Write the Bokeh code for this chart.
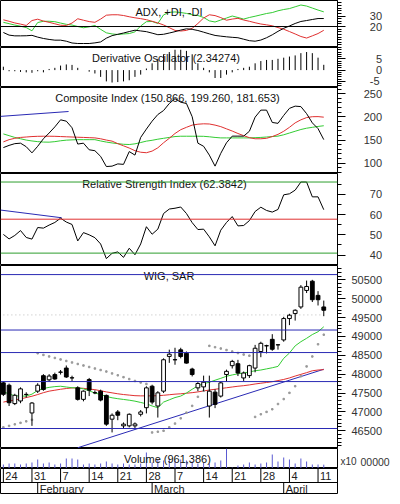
from bokeh.plotting import figure
from bokeh.layouts import column
from bokeh.models import Range1d, FixedTicker, Span, LinearAxis
from bokeh.core.properties import value
from bokeh.embed import file_html
from bokeh.resources import INLINE

FONT = "Liberation Sans"

# ---------------- data (trading-day index 0 = 24 Jan) ----------------
idx = list(range(57))

day_tick_idx = [0, 5, 10, 15, 20, 25, 30, 35, 40, 45, 50, 55]
day_tick_labels = ["24", "31", "7", "14", "21", "28", "7", "14", "21", "28", "4", "11"]
month_idx = [6, 26, 49]
month_labels = ["February", "March", "April"]

adx = [14.3, 11.8, 11.1, 11.1, 11.2, 11.6, 9.9, 8.6, 7.7, 7.0, 7.0, 6.0, 4.3, 3.8, 3.8, 3.8, 4.4, 5.3, 8.9, 11.3,
       12.6, 13.8, 15.2, 16.5, 15.8, 15.1, 13.7, 12.2, 12.6, 13.8, 15.1, 16.6, 17.8, 17.3, 16.2, 14.6, 13.0, 11.5,
       10.8, 10.2, 9.7, 9.3, 7.9, 6.5, 6.0, 7.1, 9.3, 12.1, 15.4, 18.3, 20.5, 22.9, 24.8, 25.7, 26.7, 27.6, 27.6]
plus_di = [24.0, 22.7, 21.4, 20.3, 19.0, 15.9, 23.8, 25.0, 25.0, 24.6, 23.3, 22.1, 21.4, 20.0, 18.8, 19.7, 21.0,
           17.3, 14.0, 12.9, 12.4, 12.9, 13.3, 14.9, 20.5, 24.6, 24.8, 22.9, 31.1, 33.5, 33.9, 33.3, 32.5, 31.2,
           30.5, 28.6, 25.4, 24.3, 26.2, 28.1, 30.0, 28.6, 27.1, 28.6, 29.8, 31.1, 32.4, 33.3, 35.0, 36.2, 37.1,
           38.8, 40.5, 39.5, 37.6, 35.7, 34.0]
minus_di = [26.4, 25.0, 23.4, 22.3, 21.0, 25.7, 27.0, 25.2, 24.0, 22.6, 21.2, 21.0, 23.3, 27.4, 26.0, 24.7, 24.0,
            27.1, 30.8, 31.2, 31.2, 30.5, 29.3, 28.3, 27.5, 26.5, 25.0, 23.4, 21.5, 18.9, 16.3, 15.7, 16.3, 18.3,
            22.9, 28.1, 31.2, 30.4, 28.5, 26.0, 27.1, 27.8, 26.2, 25.0, 23.6, 22.4, 21.6, 20.7, 19.0, 17.4, 15.2,
            12.9, 10.5, 9.0, 11.1, 13.3, 16.4]
adx_level = 20

deriv = [1.5, -0.5, -0.5, -0.8, -1.0, -1.2, -0.5, -1.0, 0.5, 1.0, 2.0, 2.5, 2.3, 1.0, 0.0, -0.7, -1.5, -3.0, -5.0,
         -5.5, -5.3, -5.0, -4.5, -3.0, -2.0, 0.7, 3.0, 5.0, 7.0, 8.0, 9.0, 9.0, 8.5, 7.0, 3.0, 1.0, -1.0, -3.5,
         -3.5, -2.0, -1.0, 0.5, 1.0, 1.5, 3.0, 4.0, 4.5, 4.5, 5.0, 5.5, 6.0, 6.5, 7.5, 8.0, 7.5, 5.5, 2.34]

comp = [133.7, 138.4, 142.2, 143.2, 135.6, 122.3, 136.5, 152.7, 165.1, 178.4, 193.6, 190.7, 176.5, 141.3, 143.2,
        128.9, 127.0, 114.7, 92.8, 93.7, 98.5, 97.5, 125.1, 117.5, 155.6, 173.6, 190.7, 205.0, 213.6, 228.8,
        239.2, 231.6, 228.8, 200.3, 143.2, 136.5, 117.5, 93.7, 121.3, 144.1, 158.4, 158.4, 158.4, 168.9, 199.3,
        214.5, 214.5, 187.9, 186.0, 203.1, 218.3, 223.1, 222.1, 206.9, 187.0, 174.6, 150.9]
comp_slow = [146.0, 150.8, 153.7, 155.6, 156.5, 157.5, 158.0, 158.2, 158.2, 158.0, 157.5, 157.0, 156.5, 156.0,
             155.6, 155.1, 154.6, 152.7, 149.9, 147.6, 142.2, 137.5, 132.7, 127.0, 123.7, 122.6, 126.1, 133.2,
             144.1, 153.7, 164.1, 172.3, 177.4, 182.2, 184.1, 185.0, 184.6, 182.2, 178.9, 174.1, 169.4, 164.1,
             159.4, 155.1, 152.7, 152.7, 153.7, 157.5, 162.2, 168.9, 177.4, 187.0, 193.6, 198.4, 200.3, 200.5, 199.3]
comp_fast = [163.2, 159.4, 155.6, 152.7, 149.9, 148.0, 146.5, 145.6, 145.4, 146.5, 148.4, 149.7, 150.3, 150.8,
             150.8, 150.8, 150.8, 148.0, 145.6, 143.7, 142.2, 140.8, 140.3, 141.8, 144.6, 147.6, 149.4, 151.8,
             153.7, 155.6, 157.5, 158.2, 158.2, 158.2, 158.2, 158.0, 157.0, 155.6, 154.6, 154.6, 154.6, 154.6,
             154.6, 154.6, 155.1, 155.6, 156.5, 157.5, 158.4, 161.3, 165.1, 168.9, 172.7, 175.5, 177.4, 179.3, 180.8]
comp_trend_x = [-0.5, 11.4]
comp_trend_y = [201.0, 211.5]

rsi = [50.2, 48.0, 49.7, 52.1, 48.7, 47.9, 53.6, 53.3, 54.8, 56.1, 58.2, 56.3, 55.1, 47.0, 51.1, 50.0, 48.6, 45.5,
       38.3, 40.9, 41.6, 38.9, 43.4, 40.2, 45.5, 54.0, 50.3, 52.8, 60.5, 62.7, 63.1, 63.7, 60.5, 56.0, 52.6, 52.8,
       49.0, 44.6, 52.3, 56.1, 59.0, 54.4, 54.6, 57.0, 61.5, 63.6, 62.0, 61.2, 62.5, 69.7, 70.2, 72.0, 76.0, 76.0,
       68.7, 68.7, 62.38]
rsi_levels_green = [76.0, 41.0]
rsi_level_red = 57.7
rsi_trend_x = [-0.5, 10.2]
rsi_trend_y = [62.2, 58.4]

wig_open = [47770, 47707, 47220, 47290, 47460, 46972, 47550, 47960, 47850, 47988, 48050, 48162, 47900, 47637,
            47332, 47857, 47505, 47550, 47437, 46807, 46999, 46630, 46630, 46630, 46937, 47112, 47681, 47156,
            47550, 48470, 48380, 48645, 48555, 48135, 47637, 47663, 47156, 47524, 47419, 47990, 48225, 48277,
            47900, 47962, 48162, 48600, 48750, 48923, 48776, 48907, 49474, 49606, 49781, 50219, 50464, 50088, 49781]
wig_high = [47800, 47750, 47480, 47650, 47520, 47260, 47760, 48000, 48000, 48040, 48110, 48230, 47960, 47680,
            47570, 47900, 47570, 47590, 47460, 46960, 47050, 46720, 46960, 46720, 47050, 47680, 47720, 47550,
            48420, 48650, 48700, 48700, 48600, 48170, 47790, 47961, 47961, 47600, 47800, 48120, 48380, 48380,
            48070, 48250, 48776, 48860, 48780, 49060, 48790, 49520, 49600, 49720, 50360, 50480, 50500, 50200, 49950]
wig_low = [47420, 47156, 47180, 47230, 47380, 46630, 47500, 47560, 47800, 47850, 47990, 47900, 47820, 47300,
           47280, 47419, 47470, 47280, 46630, 46456, 46780, 46550, 46590, 46560, 46880, 46960, 47200, 46850,
           47500, 48300, 48250, 48420, 48280, 47940, 47550, 47550, 46850, 47100, 47380, 47800, 48150, 47950,
           47820, 47900, 48050, 48450, 48550, 48620, 48650, 48860, 49300, 49420, 49730, 50150, 49912, 49820, 49537]
wig_close = [47465, 47243, 47440, 47610, 47465, 47235, 47707, 47595, 47950, 47873, 48057, 47925, 47905, 47332,
             47550, 47576, 47510, 47314, 46676, 46912, 46912, 46676, 46937, 46680, 46999, 47637, 47261, 47505,
             48382, 48530, 48385, 48469, 48293, 47990, 47752, 47786, 47550, 47200, 47769, 48075, 48338, 48030,
             48030, 48225, 48687, 48818, 48755, 48660, 48780, 49474, 49563, 49694, 50306, 50324, 49973, 49973, 49694]
wig_ma_fast = [47540, 47471, 47430, 47419, 47419, 47470, 47570, 47620, 47650, 47670, 47680, 47660, 47640, 47637,
               47610, 47560, 47500, 47460, 47410, 47374, 47350, 47330, 47310, 47285, 47250, 47215, 47156, 47112,
               47260, 47320, 47380, 47419, 47500, 47600, 47690, 47750, 47786, 47840, 47890, 47944, 47980, 48010,
               48030, 48060, 48090, 48110, 48140, 48170, 48206, 48420, 48560, 48750, 48860, 48950, 49050, 49125, 49256]
wig_ma_slow = [47260, 47290, 47315, 47345, 47380, 47415, 47460, 47510, 47550, 47575, 47600, 47620, 47635, 47637,
               47625, 47605, 47590, 47560, 47530, 47505, 47480, 47460, 47445, 47430, 47425, 47425, 47425, 47430,
               47440, 47455, 47470, 47480, 47495, 47510, 47530, 47555, 47580, 47600, 47620, 47640, 47660, 47680,
               47695, 47715, 47740, 47760, 47780, 47800, 47830, 47860, 47900, 47950, 47995, 48040, 48090, 48110, 48120]
sar = [46590, 46630, 46670, 46710, 46750, 46790,
       48554, 48510, 48470, 48430, 48390, 48350, 48310, 48270, 48230, 48190, 48150, 48110, 48070, 48020,
       47970, 47920, 47870, 47820, 47780, 47740,
       46455, 46475, 46500, 46590, 46690, 46830, 46980, 47160, 47400, 47560,
       48750, 48715, 48680, 48640, 48600, 48560, 48520, 48490,
       46867, 46937, 47000, 47070, 47209, 47340, 47505, 47681, 47944, 48206, 48469, 48792, 49046]
wig_levels = [50639, 49170, 48573, 47804, 46560]
wig_dotted_level = 49570
wig_trend_x = [13.0, 56.0]
wig_trend_y = [46050, 48130]

volume = [1000000, 1250000, 1250000, 1000000, 1250000, 1500000, 2250000, 1250000, 1500000, 1000000, 1250000,
          2500000, 2500000, 2250000, 1000000, 1250000, 1000000, 1250000, 1750000, 1250000, 1000000, 1250000,
          1000000, 1000000, 1250000, 4000000, 1500000, 2250000, 2000000, 2500000, 2000000, 2250000, 2000000,
          1750000, 1250000, 1500000, 1250000, 1500000, 2000000, 5000000, 250000, 750000, 1000000, 1500000,
          1000000, 1250000, 1500000, 3500000, 1750000, 2750000, 2250000, 1250000, 2500000, 1750000, 1000000,
          1000000, 961386]
volume_unit_tick = 1750000

# ---------------- layout helpers ----------------
W = 392
RB = 49
xr = Range1d(-0.5, 58.4)
GREEN = "#33cc33"
RED = "#e03030"
BLUE = "#2a2ab4"
TXT = "#111111"
FIGSP = "\u2007"  # digit-wide space, used to right-align the axis numbers


def style_axis(ax, ticks, minor, font_size="11px"):
    ax.ticker = FixedTicker(ticks=ticks, minor_ticks=minor)
    ax.axis_line_color = "black"
    ax.major_tick_line_color = "black"
    ax.minor_tick_line_color = "black"
    ax.major_tick_in = 0
    ax.major_tick_out = 8
    ax.minor_tick_in = 0
    ax.minor_tick_out = 4
    ax.major_label_text_font = FONT
    ax.major_label_text_font_size = font_size
    ax.major_label_text_color = "#333333"
    ax.major_label_standoff = 6
    ax.major_label_overrides = {t: FIGSP * max(0, 5 - len(str(t))) + str(t) for t in ticks}


def panel(h, y0, y1, ticks, minor, title=None):
    p = figure(width=W, height=h, x_range=xr, y_range=Range1d(y0, y1),
               toolbar_location=None, output_backend="svg",
               x_axis_location=None, y_axis_location="right",
               min_border_left=0, min_border_right=RB, min_border_top=0, min_border_bottom=0)
    p.xgrid.visible = False
    p.ygrid.visible = False
    p.outline_line_color = "black"
    p.outline_line_width = 1
    style_axis(p.yaxis[0], ticks, minor)
    if title:
        p.text(x=[(xr.start + xr.end) / 2], y=[y1], text=[title], y_offset=10,
               text_align="center", text_baseline="middle", text_color=TXT,
               text_font=value(FONT), text_font_size="11px")
    return p


# ADX
p1 = panel(47, 0, 44.8, [20, 30], [x * 2.5 for x in range(0, 18)])
p1.add_layout(Span(location=adx_level, dimension="width", line_color="black", line_width=1))
p1.line(idx, plus_di, color=GREEN, line_width=1)
p1.line(idx, minus_di, color=RED, line_width=1)
p1.line(idx, adx, color="black", line_width=1)
p1.text(x=[(xr.start + xr.end) / 2], y=[44.8], text=["ADX, +DI, -DI"], y_offset=11,
        text_align="center", text_baseline="middle", text_color=TXT,
        text_font=value(FONT), text_font_size="11px")

# Derivative oscillator
p2 = panel(40, -7.7, 10.0, [-5, 0, 5], list(range(-7, 11)), "Derivative  Oscillator  (2.34274)")
p2.segment(x0=idx, y0=[0] * len(idx), x1=idx, y1=deriv, color="black", line_width=1)

# Composite index
p3 = panel(86, 77.8, 263.3, [100, 150, 200, 250], list(range(80, 261, 10)),
           "Composite Index  (150.866, 199.260, 181.653)")
p3.line(comp_trend_x, comp_trend_y, color=BLUE, line_width=1)
p3.line(idx, comp_fast, color=GREEN, line_width=1)
p3.line(idx, comp_slow, color=RED, line_width=1)
p3.line(idx, comp, color="black", line_width=1)

# RSI
p4 = panel(92, 34.9, 80.2, [40, 50, 60, 70], [35, 45, 55, 65, 75], "Relative  Strength  Index  (62.3842)")
for lv in rsi_levels_green:
    p4.add_layout(Span(location=lv, dimension="width", line_color="#2e9e2e", line_width=1))
p4.add_layout(Span(location=rsi_level_red, dimension="width", line_color=RED, line_width=1))
p4.line(rsi_trend_x, rsi_trend_y, color=BLUE, line_width=1)
p4.line(idx, rsi, color="black", line_width=1)

# WIG candles
p5 = panel(183, 46030, 50880, list(range(46500, 50501, 500)), list(range(46100, 50801, 100)), "WIG, SAR")
for lv in wig_levels:
    p5.add_layout(Span(location=lv, dimension="width", line_color=BLUE, line_width=1))
p5.line([idx[0], idx[-1]], [wig_dotted_level, wig_dotted_level], color="#bbbbbb", line_dash="1 3", line_width=1)
p5.line(wig_trend_x, wig_trend_y, color=BLUE, line_width=1)
p5.line(idx, wig_ma_slow, color=RED, line_width=1)
p5.line(idx, wig_ma_fast, color=GREEN, line_width=1)
p5.scatter(idx, sar, marker="square", size=1.5, color="#999999")
p5.segment(x0=idx, y0=wig_high, x1=idx, y1=wig_low, color="black", line_width=1)
up_x = [i for i in idx if wig_close[i] >= wig_open[i]]
dn_x = [i for i in idx if wig_close[i] < wig_open[i]]
p5.vbar(x=up_x, width=0.66, top=[wig_close[i] for i in up_x], bottom=[wig_open[i] for i in up_x],
        fill_color="white", line_color="black", line_width=1)
p5.vbar(x=dn_x, width=0.66, top=[wig_open[i] for i in dn_x], bottom=[wig_close[i] for i in dn_x],
        fill_color="black", line_color="black", line_width=1)

# Volume (two stacked right axes: multiplier "x10" next to the frame, then "00000")
p6 = panel(20, 0, 5000000, [volume_unit_tick], [], None)
ax_a = p6.yaxis[0]
ax_a.major_label_overrides = {volume_unit_tick: "x10"}
ax_a.major_tick_out = 0
ax_a.major_label_standoff = 3
ax_a.major_label_text_font_size = "10px"
ax_b = LinearAxis()
style_axis(ax_b, [volume_unit_tick], [], "10.5px")
ax_b.major_label_overrides = {volume_unit_tick: "00000"}
ax_b.axis_line_color = None
ax_b.major_tick_out = 0
ax_b.major_label_standoff = 1
p6.add_layout(ax_b, "right")
p6.segment(x0=idx, y0=[0] * len(idx), x1=idx, y1=volume, color="#5a5ad2", line_width=1)
p6.text(x=[(xr.start + xr.end) / 2], y=[5000000], text=["Volume  (961,386)"], y_offset=10,
        text_align="center", text_baseline="middle", text_color=TXT,
        text_font=value(FONT), text_font_size="11px")

# Date axis rows
p7 = figure(width=W, height=26, x_range=xr, y_range=Range1d(0, 26),
            toolbar_location=None, output_backend="svg",
            x_axis_location=None, y_axis_location=None,
            min_border_left=0, min_border_right=RB, min_border_top=0, min_border_bottom=0)
p7.xgrid.visible = False
p7.ygrid.visible = False
p7.outline_line_color = "black"
p7.add_layout(Span(location=12, dimension="width", line_color="black", line_width=1))
p7.segment(x0=day_tick_idx, y0=[12] * len(day_tick_idx), x1=day_tick_idx, y1=[26] * len(day_tick_idx),
           color="black", line_width=1)
p7.text(x=day_tick_idx, y=[19] * len(day_tick_idx), text=day_tick_labels, x_offset=2,
        text_align="left", text_baseline="middle", text_color="#222222",
        text_font=value(FONT), text_font_size="11px")
p7.segment(x0=month_idx, y0=[0] * len(month_idx), x1=month_idx, y1=[12] * len(month_idx),
           color="black", line_width=1)
p7.text(x=month_idx, y=[6] * len(month_idx), text=month_labels, x_offset=2,
        text_align="left", text_baseline="middle", text_color="#222222",
        text_font=value(FONT), text_font_size="11px")

layout = column(p1, p2, p3, p4, p5, p6, p7, spacing=0)
open("out.html", "w").write(file_html(layout, INLINE))
